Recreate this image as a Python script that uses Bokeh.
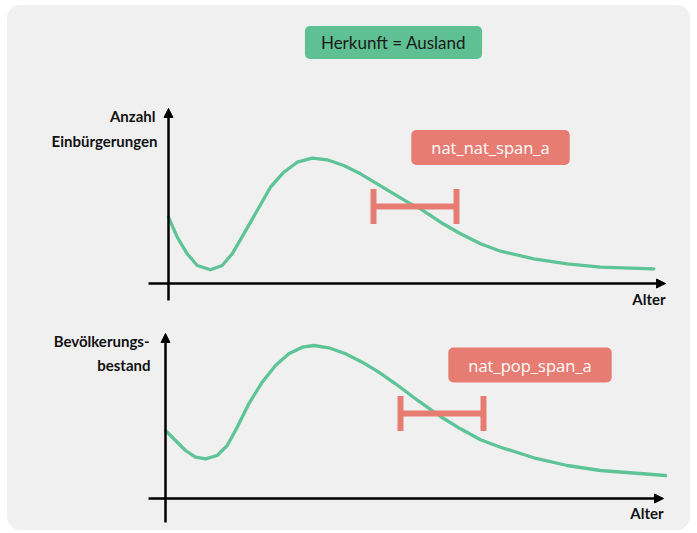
from bokeh.plotting import figure
from bokeh.models import Range1d, Arrow, NormalHead, Label
from bokeh.layouts import column
from bokeh.embed import file_html
from bokeh.resources import INLINE
from bokeh.core.properties import value

# ---- data (schematic) ----
# upper panel: number of naturalisations by age
nat_age = [0, 1.74, 3.74, 5.74, 8.4, 10.74, 12.74, 15.06, 17.74, 20.4, 23.06, 25.74, 28.74,
           31.74, 35.06, 38.4, 41.74, 45.06, 48.4, 50.4, 54.4, 58.4, 62.4, 66.4, 73.06,
           79.74, 86.4, 97.06]
nat_val = [6.63, 4.63, 2.97, 1.8, 1.37, 1.8, 2.97, 4.97, 7.3, 9.63, 11.13, 12.13, 12.53,
           12.37, 11.8, 10.97, 9.97, 8.97, 7.97, 7.47, 6.13, 4.97, 3.97, 3.23, 2.47,
           1.97, 1.63, 1.47]
# lower panel: population stock by age
pop_age = [0, 2.0, 4.0, 6.0, 8.0, 10.34, 12.34, 14.34, 16.66, 19.34, 22.0, 24.66, 27.34,
           29.66, 32.66, 36.0, 39.34, 42.66, 46.0, 50.66, 55.0, 59.0, 63.0, 67.0, 73.66,
           80.34, 87.0, 100]
pop_val = [6.8, 5.8, 4.8, 4.13, 3.97, 4.3, 5.3, 7.13, 9.47, 11.63, 13.3, 14.47, 15.13,
           15.3, 15.07, 14.47, 13.63, 12.63, 11.47, 9.73, 8.2, 6.97, 5.87, 5.13, 4.07,
           3.3, 2.8, 2.3]
# span markers (start age, end age, level)
nat_span = (41, 57.6, 7.7)
pop_span = (47, 63.6, 8.5)
header_text = "Herkunft = Ausland"
nat_span_label = "nat_nat_span_a"
pop_span_label = "nat_pop_span_a"
ylabel_top = ["Anzahl", "Einbürgerungen"]
ylabel_bottom = ["Bevölkerungs-", "bestand"]
xlabel = "Alter"

GREEN = "#5ec497"
SALMON = "#e77c72"
BG = "#f0f0f0"
LABEL_FONT = value("Lato")


def make_fig(h, xr, yr):
    p = figure(width=683, height=h, x_range=Range1d(*xr), y_range=Range1d(*yr),
               output_backend="svg", toolbar_location=None,
               x_axis_location=None, y_axis_location=None, min_border=0)
    p.grid.visible = False
    p.outline_line_color = None
    p.background_fill_color = BG
    p.border_fill_color = BG
    return p


def add_axes(p, y0, y1, x0, x1, xlab_y):
    p.add_layout(Arrow(end=NormalHead(size=9, fill_color="black", line_color="black"),
                       x_start=0, y_start=y0, x_end=0, y_end=y1,
                       line_width=2.5, line_color="black"))
    p.add_layout(Arrow(end=NormalHead(size=9, fill_color="black", line_color="black"),
                       x_start=x0, y_start=0, x_end=x1, y_end=0,
                       line_width=2.5, line_color="black"))
    p.text(x=[x1], y=[xlab_y], text=[xlabel], text_font=LABEL_FONT, text_font_style="bold",
           text_font_size="15px", text_align="right", text_baseline="middle", text_color="#111111")


def add_span(p, span, label_text, lx, ly):
    s0, s1, sy = span
    p.segment(x0=[s0], y0=[sy], x1=[s1], y1=[sy], line_color=SALMON, line_width=6)
    p.segment(x0=[s0, s1], y0=[sy - 1.75, sy - 1.75], x1=[s0, s1], y1=[sy + 1.75, sy + 1.75],
              line_color=SALMON, line_width=6)
    p.add_layout(Label(x=lx, y=ly, text=label_text, text_font="Open Sans", text_font_size="16.5px",
                       text_color="white", text_align="center", text_baseline="middle",
                       background_fill_color=SALMON, border_radius=5,
                       padding=dict(x=20, y=6)))


# ---- upper panel ----
p1 = make_fig(305, (-32.2, 104.4), (-2.7, 27.8))
p1.styles = {"border-radius": "14px 14px 0 0", "overflow": "hidden"}
add_axes(p1, -1.7, 17.5, -4, 99.4, -1.5)
p1.line(nat_age, nat_val, line_color=GREEN, line_width=3.3, line_join="round", line_cap="round")
add_span(p1, nat_span, nat_span_label, 64.4, 13.6)
p1.text(x=[-2.6, -2.2], y=[16.8, 14.3], text=ylabel_top, text_font=LABEL_FONT,
        text_font_style="bold", text_font_size="15px", text_align="right",
        text_baseline="middle", text_color="#111111")
p1.add_layout(Label(x=45, y=24.1, text=header_text, text_font="Lato", text_font_size="17px",
                    text_color="#1a1a1a", text_align="center", text_baseline="middle",
                    background_fill_color="#5fc093", border_radius=5,
                    padding=dict(x=16, y=6)))

# ---- lower panel ----
p2 = make_fig(220, (-31.6, 105.0), (-3.2, 18.8))
p2.styles = {"border-radius": "0 0 14px 14px", "overflow": "hidden"}
add_axes(p2, -2.4, 16.5, -3.4, 99.6, -1.4)
p2.line(pop_age, pop_val, line_color=GREEN, line_width=3.3, line_join="round", line_cap="round")
add_span(p2, pop_span, pop_span_label, 72.9, 13.35)
p2.text(x=[-3.2, -3.0], y=[15.8, 13.4], text=ylabel_bottom, text_font=LABEL_FONT,
        text_font_style="bold", text_font_size="15px", text_align="right",
        text_baseline="middle", text_color="#111111")

layout = column(p1, p2, spacing=0, margin=(5, 0, 0, 7),
                styles={"background-color": BG, "border-radius": "14px"})
open("out.html", "w").write(file_html(layout, INLINE))
